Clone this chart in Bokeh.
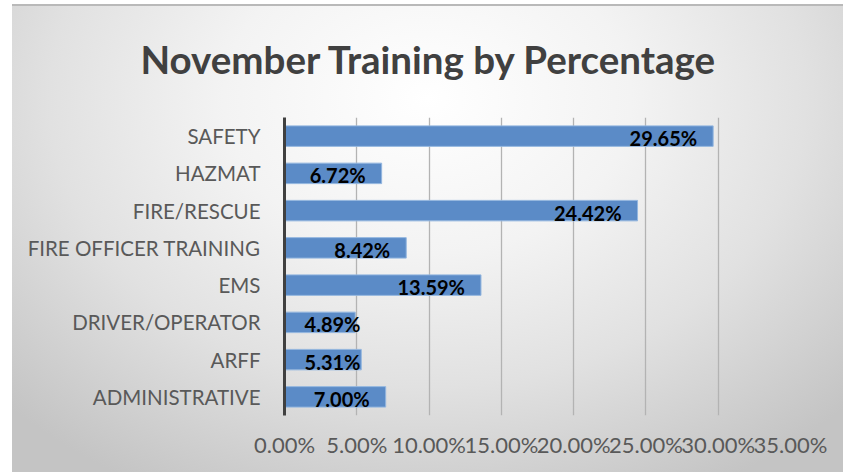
from bokeh.plotting import figure
from bokeh.models import (ColumnDataSource, FactorRange, Range1d, FixedTicker,
                          PrintfTickFormatter, InlineStyleSheet)
from bokeh.core.properties import value
from bokeh.embed import file_html
from bokeh.resources import INLINE

# ---- data ----
categories = ["SAFETY", "HAZMAT", "FIRE/RESCUE", "FIRE OFFICER TRAINING",
              "EMS", "DRIVER/OPERATOR", "ARFF", "ADMINISTRATIVE"]
percentages = [29.65, 6.72, 24.42, 8.42, 13.59, 4.89, 5.31, 7.00]
x_ticks = [0, 5, 10, 15, 20, 25, 30, 35]
title_text = "November Training by Percentage"

FONT = "Lato"
W, H = 843, 472
FRAME_L, FRAME_R, FRAME_T, FRAME_B = 284, 53, 117, 57

# label placement: inside end, but never closer than a minimum to the axis
px_per_unit = (W - FRAME_L - FRAME_R) / (x_ticks[-1] - x_ticks[0])
label_x = [max(v - 16 / px_per_unit, 76 / px_per_unit) for v in percentages]
labels = ["%.2f%%" % v for v in percentages]

src = ColumnDataSource(dict(cat=categories, val=percentages,
                            lx=label_x, lab=labels))

css = InlineStyleSheet(css=""":host {
 background:
   linear-gradient(#b9b9b9, #b9b9b9) 12px 4px / calc(100% - 12px) 2px no-repeat,
   radial-gradient(ellipse 70% 95% at 50% 20%, #ffffff 0%, #f3f3f3 35%, #e1e1e1 65%, #c4c4c4 100%)
     12px 5px / calc(100% - 12px) calc(100% - 5px) no-repeat,
   #ffffff;
}""")

p = figure(width=W, height=H, output_backend="svg", toolbar_location=None,
           y_range=FactorRange(*reversed(categories), range_padding=0),
           x_range=Range1d(x_ticks[0], x_ticks[-1]),
           min_border_left=FRAME_L, min_border_right=FRAME_R,
           min_border_top=FRAME_T, min_border_bottom=FRAME_B,
           stylesheets=[css])
p.border_fill_alpha = 0
p.background_fill_alpha = 0
p.outline_line_color = None

p.hbar(y="cat", right="val", left=0, height=0.55, source=src,
       fill_color="#5b8bc7", line_color="#93b6df", line_width=1)

p.text(x="lx", y="cat", text="lab", source=src, text_align="right",
       text_baseline="middle", text_font=value(FONT), text_font_size="20px",
       text_font_style="bold", text_color="#000000", y_offset=2)

# title (placed in the border above the frame)
p.title.text = title_text
p.title.align = "left"
p.title.offset = -144
p.title.vertical_align = "middle"
p.title.standoff = 69
p.title.text_font = FONT
p.title.text_font_size = "38.5px"
p.title.text_font_style = "bold"
p.title.text_color = "#404040"

# axes
p.xaxis.ticker = FixedTicker(ticks=x_ticks)
p.xaxis.formatter = PrintfTickFormatter(format="%.2f%%")
p.xaxis.axis_line_color = None
p.xaxis.major_tick_line_color = None
p.xaxis.minor_tick_line_color = None
p.xaxis.major_label_text_font = FONT
p.xaxis.major_label_text_font_size = "22px"
p.xaxis.major_label_text_color = "#595959"
p.xaxis.major_label_standoff = 9

p.yaxis.axis_line_color = "#404040"
p.yaxis.axis_line_width = 3
p.yaxis.major_tick_line_color = None
p.yaxis.minor_tick_line_color = None
p.yaxis.major_label_text_font = FONT
p.yaxis.major_label_text_font_size = "20.5px"
p.yaxis.major_label_text_color = "#595959"
p.yaxis.major_label_standoff = 18

p.xgrid.grid_line_color = "#b3b3b3"
p.xgrid.grid_line_width = 1.3
p.ygrid.grid_line_color = None

open("out.html", "w").write(file_html(p, INLINE))
